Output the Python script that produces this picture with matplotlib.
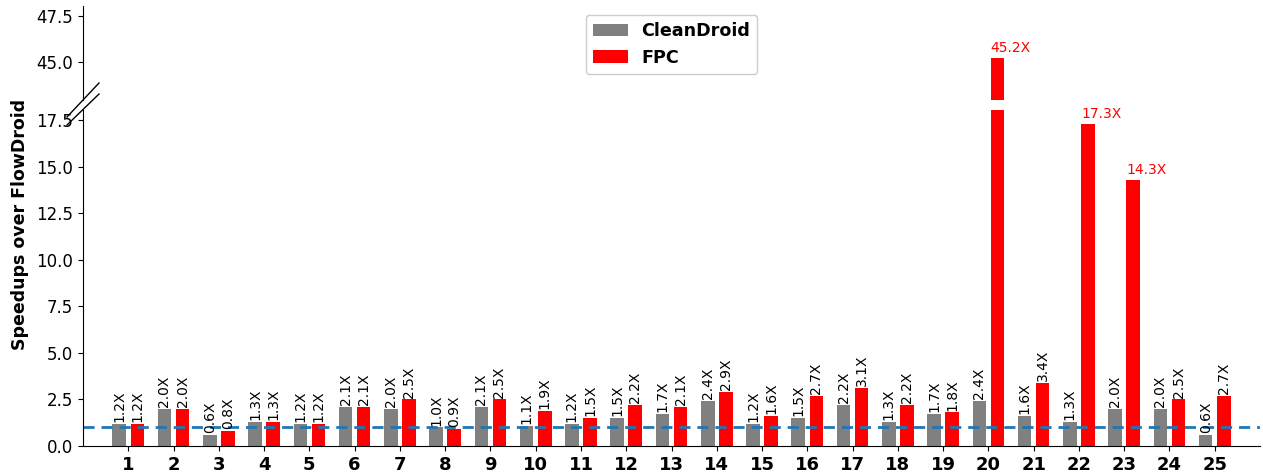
import matplotlib
matplotlib.use("Agg")
import matplotlib.pyplot as plt
from matplotlib.lines import Line2D
import numpy as np

apps = [str(i) for i in range(1, 26)]
cleandroid = [1.2, 2.0, 0.6, 1.3, 1.2, 2.1, 2.0, 1.0, 2.1, 1.1, 1.2, 1.5, 1.7,
              2.4, 1.2, 1.5, 2.2, 1.3, 1.7, 2.4, 1.6, 1.3, 2.0, 2.0, 0.6]
fpc = [1.2, 2.0, 0.8, 1.3, 1.2, 2.1, 2.5, 0.9, 2.5, 1.9, 1.5, 2.2, 2.1,
       2.9, 1.6, 2.7, 3.1, 2.2, 1.8, 45.2, 3.4, 17.3, 14.3, 2.5, 2.7]
baseline = 1.0

W, H = 1263, 476
fig = plt.figure(figsize=(W / 100, H / 100), dpi=100)
left, right = 83 / W, 1260 / W
ax_top = fig.add_axes([left, 1 - 100 / H, right - left, (100 - 6) / H])
ax = fig.add_axes([left, 1 - 446 / H, right - left, (446 - 110) / H])

x = np.arange(1, len(apps) + 1)
w = 0.3
off = 0.2
gray = '#808080'
red = '#ff0000'

for a in (ax, ax_top):
    a.bar(x - off, cleandroid, w, color=gray, label='CleanDroid')
    a.bar(x + off, fpc, w, color=red, label='FPC')
    a.set_xlim(0, 26)
    for s in ('top', 'right'):
        a.spines[s].set_visible(False)

ax.axhline(baseline, color='#1f77b4', linestyle='--', linewidth=2, dashes=(4, 2.5))

ax.set_ylim(0, 18.04)
ax_top.set_ylim(42.93, 48.04)
ax.set_yticks(np.arange(0, 17.6, 2.5))
ax_top.set_yticks([45.0, 47.5])
ax.tick_params(axis='y', labelsize=12)
ax_top.tick_params(axis='y', labelsize=12)
ax_top.spines['bottom'].set_visible(False)
ax_top.set_xticks([])
ax.set_xticks(x)
ax.set_xticklabels(apps, fontsize=13, fontweight='bold')

lim_low = 18.04
for xi, c, f in zip(x, cleandroid, fpc):
    ax.text(xi - off, c + 0.1, f"{c:.1f}X", rotation=90, ha='center', va='bottom', fontsize=10)
    if f < 10:
        ax.text(xi + off, f + 0.1, f"{f:.1f}X", rotation=90, ha='center', va='bottom', fontsize=10)
    elif f < lim_low:
        ax.text(xi + off - w / 2, f + 0.15, f"{f:.1f}X", ha='left', va='bottom', fontsize=10, color=red)
    else:
        ax_top.text(xi + off - w / 2, f + 0.15, f"{f:.1f}X", ha='left', va='bottom', fontsize=10, color=red)

ax_top.legend(loc='upper center', prop={'weight': 'bold', 'size': 12.6}, framealpha=1,
              borderaxespad=0.5)

# break marks
for (x0, y0, x1, y1) in [(67, 117, 99, 83), (67, 125, 99, 94)]:
    fig.add_artist(Line2D([x0 / W, x1 / W], [1 - y0 / H, 1 - y1 / H],
                          transform=fig.transFigure, color='black', linewidth=1))

fig.text(20 / W, 1 - 224.5 / H, 'Speedups over FlowDroid', rotation=90, ha='center', va='center',
         fontsize=12.5, fontweight='bold')

fig.savefig('out.png', dpi=100)
